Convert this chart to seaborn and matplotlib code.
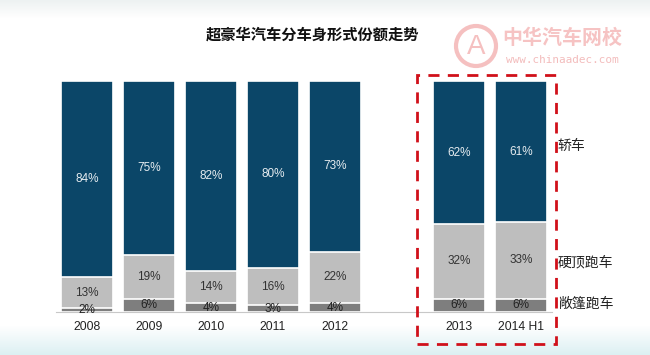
import numpy as np
import pandas as pd
import matplotlib
matplotlib.use('Agg')
import matplotlib.pyplot as plt
import seaborn as sns
from matplotlib.patches import Rectangle, Ellipse

# shares (percent)
years = ['2008', '2009', '2010', '2011', '2012', '2013', '2014 H1']
sedan = [84, 75, 82, 80, 73, 62, 61]        # 轿车
hardtop = [13, 19, 14, 16, 22, 32, 33]      # 硬顶跑车
convertible = [2, 6, 4, 3, 4, 6, 6]         # 敞篷跑车
order = ['2008', '2009', '2010', '2011', '2012', ' ', '2013', '2014 H1']

df = pd.DataFrame({'year': years, 'sedan': sedan, 'hardtop': hardtop, 'conv': convertible})
tot = df[['sedan', 'hardtop', 'conv']].sum(axis=1)
df['h_conv'] = df['conv'] / tot * 100
df['h_hard'] = df['h_conv'] + df['hardtop'] / tot * 100
df['h_all'] = 100.0

sns.set_style('white')
plt.rcParams['font.family'] = ['Liberation Sans', 'Noto Sans CJK SC', 'DejaVu Sans']

navy = '#0B4668'
light = '#BEBEBE'
dark = '#7E7E7E'

fig = plt.figure(figsize=(6.5, 3.55), dpi=100)

# soft background
bg = fig.add_axes([0, 0, 1, 1], zorder=-5)
grad = np.ones((355, 1, 3))
top = np.array([0.93, 0.95, 0.95])
bot = np.array([0.86, 0.94, 0.95])
for i in range(355):
    if i < 18:
        t = 1 - i / 18
        grad[i, 0] = 1 - t * (1 - top)
    elif i > 325:
        t = (i - 325) / 30
        grad[i, 0] = 1 - t * (1 - bot)
bg.imshow(grad, aspect='auto', extent=[0, 1, 0, 1])
bg.axis('off')

ax = fig.add_axes([0.0862, 0.12, 0.763, 0.652])
ax.patch.set_alpha(0)
w = 0.85
sns.barplot(data=df, x='year', y='h_all', order=order, color=navy, width=w,
            saturation=1, edgecolor='white', linewidth=1.2, ax=ax)
sns.barplot(data=df, x='year', y='h_hard', order=order, color=light, width=w,
            saturation=1, edgecolor='white', linewidth=1.2, ax=ax)
sns.barplot(data=df, x='year', y='h_conv', order=order, color=dark, width=w,
            saturation=1, edgecolor='white', linewidth=1.2, ax=ax)

pos = {c: i for i, c in enumerate(order)}
for _, r in df.iterrows():
    x = pos[r['year']]
    ax.text(x, (r['h_hard'] + 100) / 2, f"{r['sedan']}%", ha='center', va='center',
            fontsize=8.5, color='#E6ECF0')
    ax.text(x, (r['h_conv'] + r['h_hard']) / 2, f"{r['hardtop']}%", ha='center',
            va='center', fontsize=8.5, color='#333333')
    ax.text(x, r['h_conv'] / 2, f"{r['conv']}%", ha='center', va='center',
            fontsize=8.5, color='#222222')

ax.set_xlim(-0.5, 7.5)
ax.set_ylim(0, 100)
ax.set_xlabel('')
ax.set_ylabel('')
ax.set_yticks([])
ax.set_xticks(range(len(order)))
ax.set_xticklabels(order, fontsize=8.7, color='#222222')
ax.set_xticks(np.arange(-0.5, 8, 1), minor=True)
ax.tick_params(axis='x', which='major', length=0, pad=6)
ax.tick_params(axis='x', which='minor', length=4, color='#BBBBBB', direction='out')
for s in ['top', 'right', 'left']:
    ax.spines[s].set_visible(False)
ax.spines['bottom'].set_color('#C8C8C8')

# series names at right
fig.text(0.858, 1 - 146 / 355, '轿车', fontsize=10, va='center', color='#222222')
fig.text(0.858, 1 - 262 / 355, '硬顶跑车', fontsize=10, va='center', color='#222222')
fig.text(0.858, 1 - 304 / 355, '敞篷跑车', fontsize=10, va='center', color='#222222')

fig.text(313 / 650, 1 - 35 / 355, '超豪华汽车分车身形式份额走势', ha='center', va='center',
         fontsize=11, fontweight='bold', color='#111111')

# red dashed frame
fig.patches.append(Rectangle((417 / 650, 1 - 344 / 355), 139 / 650, 269 / 355,
                             transform=fig.transFigure, fill=False, edgecolor='#D0101A',
                             linestyle=(0, (4, 3)), linewidth=2))

# watermark
fig.patches.append(Ellipse((476 / 650, 1 - 46 / 355), 40 / 650, 40 / 355,
                           transform=fig.transFigure, fill=False, edgecolor='#F5C0C0',
                           linewidth=3))
fig.text(476 / 650, 1 - 47 / 355, 'A', ha='center', va='center', fontsize=20,
         color='#F5C0C0')
fig.text(502 / 650, 1 - 38 / 355, '中华汽车网校', fontsize=14.4, fontweight='bold',
         va='center', color='#F6C3C3')
fig.text(506 / 650, 1 - 60 / 355, 'www.chinaadec.com', fontsize=7.9, family='DejaVu Sans Mono',
         va='center', color='#F3BCBC')

fig.savefig('out.png', dpi=100)
